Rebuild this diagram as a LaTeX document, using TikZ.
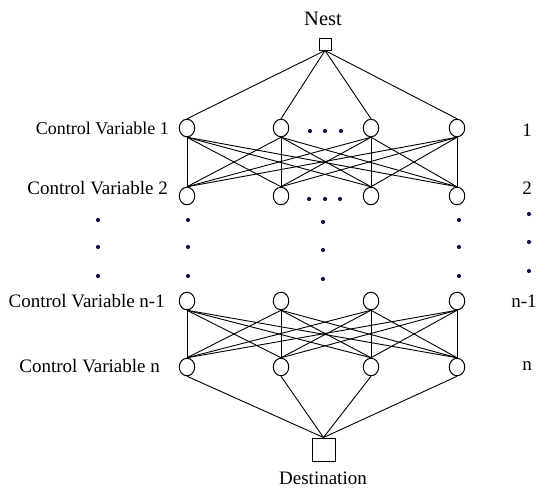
\documentclass[tikz,border=0pt]{standalone}
\usepackage{fontspec}
\setmainfont{Liberation Serif}
\usetikzlibrary{shapes.geometric}
\definecolor{dotblue}{RGB}{20,20,80}
\begin{document}
\begin{tikzpicture}[x=1pt,y=-1pt,
  unit/.style={draw,ellipse,minimum width=15.5pt,minimum height=17.5pt,inner sep=0pt,line width=1pt},
  term/.style={draw,rectangle,inner sep=0pt,line width=1pt},
  lbl/.style={font=\fontsize{19}{21}\selectfont,inner sep=0pt},
  dotm/.style={fill=dotblue,circle,inner sep=0pt,minimum size=4.2pt},
  link/.style={line width=0.9pt}]
\useasboundingbox (0,0) rectangle (541,491);

% origin and destination
\node[lbl,font=\fontsize{20.5}{22}\selectfont] (nestlbl) at (323,19) {Nest};
\node[term,minimum size=12pt] (nest) at (325,44) {};
\node[term,minimum size=23pt] (dest) at (323.5,449.5) {};
\node[lbl] (destlbl) at (323,478) {Destination};

% four layers of units
\foreach \r/\y in {a/128,b/196,c/301,d/367}{
  \foreach \i/\x in {1/187,2/281,3/371,4/457}{
    \node[unit] (\r\i) at (\x,\y) {};
  }
}

% row labels
\node[lbl,anchor=east,font=\fontsize{18}{20}\selectfont] (la) at (169,128) {Control Variable 1};
\node[lbl,anchor=east] (lb) at (168,188) {Control Variable 2};
\node[lbl,anchor=east] (lc) at (165,301) {Control Variable n-1};
\node[lbl,anchor=east] (ld) at (160,366) {Control Variable n};
\node[lbl] (ra) at (527,130) {1};
\node[lbl] (rb) at (527,188) {2};
\node[lbl] (rc) at (524,301) {n-1};
\node[lbl] (rd) at (527,366) {n};

% connections
\foreach \i in {1,...,4}{
  \draw[link] (nest.south) -- (a\i.north);
  \draw[link] (d\i.south) -- (dest.north);
  \foreach \j in {1,...,4}{
    \draw[link] (a\i.south) -- (b\j.north);
    \draw[link] (c\i.south) -- (d\j.north);
  }
}

% ellipsis dots
\foreach \x/\y [count=\k] in {310/131,325/131,341/131,309/199,325/199,340/199,
  98/220,98/247,98/276,188/220,188/247,188/276,323/222,323/250,323/279,
  459/220,459/247,459/276,529/214,529/242,529/271}{
  \node[dotm] (dot\k) at (\x,\y) {};
}
\end{tikzpicture}
\end{document}
